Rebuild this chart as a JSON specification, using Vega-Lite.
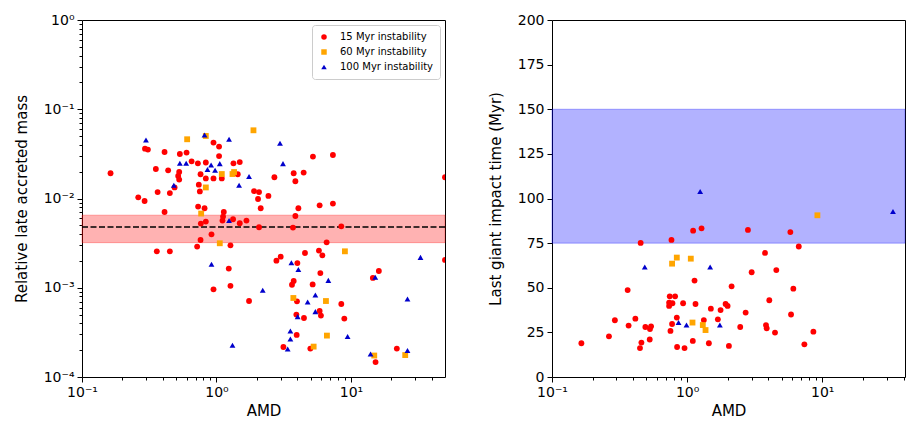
{
  "$schema": "https://vega.github.io/schema/vega-lite/v6.json",
  "padding": {"left": 13, "top": 12, "right": 2, "bottom": 5},
  "background": "white",
  "config": {
    "font": "DejaVu Sans",
    "view": {"stroke": "black", "strokeWidth": 1},
    "axis": {"domain": false, "grid": false, "tickColor": "black", "labelColor": "black", "titleColor": "black", "labelFontSize": 14, "titleFontSize": 15, "titleFontWeight": "normal", "tickWidth": 1, "labelPadding": 3, "labelOverlap": false, "labelFlush": false},
    "axisX": {"titlePadding": 4},
    "axisY": {"titlePadding": 14},
    "legend": {"orient": "top-right", "offset": 5, "labelFontSize": 10, "labelColor": "black", "symbolSize": 30, "symbolOpacity": 1, "symbolStrokeWidth": 0, "strokeColor": "#cccccc", "fillColor": "white", "padding": 7, "cornerRadius": 3, "rowPadding": 5, "labelOffset": 11}
  },
  "datasets": {
    "leftband": [{"y": 0.0032, "y2": 0.0065}],
    "leftline": [{"y": 0.0048}],
    "rightband": [{"y": 75, "y2": 150}],
    "left": [
      {"s": "15 Myr instability", "x": 0.163, "y": 0.0192},
      {"s": "15 Myr instability", "x": 0.294, "y": 0.0362},
      {"s": "15 Myr instability", "x": 0.309, "y": 0.0353},
      {"s": "15 Myr instability", "x": 0.411, "y": 0.0332},
      {"s": "15 Myr instability", "x": 0.534, "y": 0.0315},
      {"s": "15 Myr instability", "x": 0.599, "y": 0.0327},
      {"s": "15 Myr instability", "x": 0.95, "y": 0.0423},
      {"s": "15 Myr instability", "x": 1.045, "y": 0.0382},
      {"s": "15 Myr instability", "x": 1.045, "y": 0.0299},
      {"s": "15 Myr instability", "x": 0.653, "y": 0.0261},
      {"s": "15 Myr instability", "x": 0.727, "y": 0.0248},
      {"s": "15 Myr instability", "x": 0.833, "y": 0.0253},
      {"s": "15 Myr instability", "x": 1.337, "y": 0.0248},
      {"s": "15 Myr instability", "x": 1.489, "y": 0.0256},
      {"s": "15 Myr instability", "x": 0.354, "y": 0.0214},
      {"s": "15 Myr instability", "x": 0.437, "y": 0.0207},
      {"s": "15 Myr instability", "x": 0.528, "y": 0.0198},
      {"s": "15 Myr instability", "x": 0.519, "y": 0.0179},
      {"s": "15 Myr instability", "x": 0.528, "y": 0.0163},
      {"s": "15 Myr instability", "x": 0.761, "y": 0.0187},
      {"s": "15 Myr instability", "x": 0.833, "y": 0.0168},
      {"s": "15 Myr instability", "x": 0.95, "y": 0.0168},
      {"s": "15 Myr instability", "x": 1.095, "y": 0.0168},
      {"s": "15 Myr instability", "x": 1.439, "y": 0.0187},
      {"s": "15 Myr instability", "x": 0.739, "y": 0.0143},
      {"s": "15 Myr instability", "x": 0.488, "y": 0.0133},
      {"s": "15 Myr instability", "x": 0.752, "y": 0.012},
      {"s": "15 Myr instability", "x": 0.365, "y": 0.0118},
      {"s": "15 Myr instability", "x": 0.45, "y": 0.0115},
      {"s": "15 Myr instability", "x": 0.262, "y": 0.0103},
      {"s": "15 Myr instability", "x": 0.292, "y": 0.00937},
      {"s": "15 Myr instability", "x": 1.902, "y": 0.0121},
      {"s": "15 Myr instability", "x": 2.072, "y": 0.0118},
      {"s": "15 Myr instability", "x": 2.432, "y": 0.0107},
      {"s": "15 Myr instability", "x": 2.036, "y": 0.00987},
      {"s": "15 Myr instability", "x": 2.132, "y": 0.00777},
      {"s": "15 Myr instability", "x": 0.411, "y": 0.00706},
      {"s": "15 Myr instability", "x": 0.73, "y": 0.00811},
      {"s": "15 Myr instability", "x": 0.815, "y": 0.00777},
      {"s": "15 Myr instability", "x": 1.133, "y": 0.00706},
      {"s": "15 Myr instability", "x": 1.119, "y": 0.00627},
      {"s": "15 Myr instability", "x": 1.108, "y": 0.00566},
      {"s": "15 Myr instability", "x": 1.328, "y": 0.00585},
      {"s": "15 Myr instability", "x": 1.67, "y": 0.00566},
      {"s": "15 Myr instability", "x": 1.489, "y": 0.00528},
      {"s": "15 Myr instability", "x": 0.765, "y": 0.00524},
      {"s": "15 Myr instability", "x": 0.833, "y": 0.00551},
      {"s": "15 Myr instability", "x": 2.072, "y": 0.00476},
      {"s": "15 Myr instability", "x": 0.918, "y": 0.00397},
      {"s": "15 Myr instability", "x": 0.761, "y": 0.00343},
      {"s": "15 Myr instability", "x": 0.718, "y": 0.00289},
      {"s": "15 Myr instability", "x": 1.27, "y": 0.00299},
      {"s": "15 Myr instability", "x": 0.36, "y": 0.00256},
      {"s": "15 Myr instability", "x": 0.45, "y": 0.00256},
      {"s": "15 Myr instability", "x": 5.213, "y": 0.0295},
      {"s": "15 Myr instability", "x": 7.338, "y": 0.0307},
      {"s": "15 Myr instability", "x": 2.695, "y": 0.0173},
      {"s": "15 Myr instability", "x": 3.749, "y": 0.0192},
      {"s": "15 Myr instability", "x": 4.447, "y": 0.0195},
      {"s": "15 Myr instability", "x": 3.859, "y": 0.0156},
      {"s": "15 Myr instability", "x": 5.846, "y": 0.00839},
      {"s": "15 Myr instability", "x": 7.338, "y": 0.00877},
      {"s": "15 Myr instability", "x": 4.062, "y": 0.00777},
      {"s": "15 Myr instability", "x": 3.859, "y": 0.00637},
      {"s": "15 Myr instability", "x": 3.704, "y": 0.00472},
      {"s": "15 Myr instability", "x": 8.472, "y": 0.00488},
      {"s": "15 Myr instability", "x": 6.591, "y": 0.00323},
      {"s": "15 Myr instability", "x": 50, "y": 0.0173},
      {"s": "15 Myr instability", "x": 3.002, "y": 0.00223},
      {"s": "15 Myr instability", "x": 4.548, "y": 0.00245},
      {"s": "15 Myr instability", "x": 5.776, "y": 0.00261},
      {"s": "15 Myr instability", "x": 6.124, "y": 0.00231},
      {"s": "15 Myr instability", "x": 1.234, "y": 0.00164},
      {"s": "15 Myr instability", "x": 0.95, "y": 0.000961},
      {"s": "15 Myr instability", "x": 1.27, "y": 0.00105},
      {"s": "15 Myr instability", "x": 1.746, "y": 0.00071},
      {"s": "15 Myr instability", "x": 2.789, "y": 0.00201},
      {"s": "15 Myr instability", "x": 3.993, "y": 0.00189},
      {"s": "15 Myr instability", "x": 5.917, "y": 0.00146},
      {"s": "15 Myr instability", "x": 3.641, "y": 0.00108},
      {"s": "15 Myr instability", "x": 3.749, "y": 0.00119},
      {"s": "15 Myr instability", "x": 5.187, "y": 0.00109},
      {"s": "15 Myr instability", "x": 3.966, "y": 0.000705},
      {"s": "15 Myr instability", "x": 3.925, "y": 0.0005},
      {"s": "15 Myr instability", "x": 4.47, "y": 0.000458},
      {"s": "15 Myr instability", "x": 5.846, "y": 0.000549},
      {"s": "15 Myr instability", "x": 5.977, "y": 0.000488},
      {"s": "15 Myr instability", "x": 8.472, "y": 0.000657},
      {"s": "15 Myr instability", "x": 8.92, "y": 0.000451},
      {"s": "15 Myr instability", "x": 3.946, "y": 0.000296},
      {"s": "15 Myr instability", "x": 3.144, "y": 0.000217},
      {"s": "15 Myr instability", "x": 4.987, "y": 0.000208},
      {"s": "15 Myr instability", "x": 14.54, "y": 0.00129},
      {"s": "15 Myr instability", "x": 16.11, "y": 0.00154},
      {"s": "15 Myr instability", "x": 21.92, "y": 0.000208},
      {"s": "15 Myr instability", "x": 15.23, "y": 0.000147},
      {"s": "15 Myr instability", "x": 50, "y": 0.00205},
      {"s": "60 Myr instability", "x": 0.605, "y": 0.0461},
      {"s": "60 Myr instability", "x": 0.833, "y": 0.0502},
      {"s": "60 Myr instability", "x": 1.883, "y": 0.0581},
      {"s": "60 Myr instability", "x": 1.095, "y": 0.0188},
      {"s": "60 Myr instability", "x": 1.315, "y": 0.0188},
      {"s": "60 Myr instability", "x": 1.351, "y": 0.0198},
      {"s": "60 Myr instability", "x": 0.833, "y": 0.0133},
      {"s": "60 Myr instability", "x": 0.769, "y": 0.00678},
      {"s": "60 Myr instability", "x": 1.058, "y": 0.00315},
      {"s": "60 Myr instability", "x": 9.01, "y": 0.00256},
      {"s": "60 Myr instability", "x": 3.729, "y": 0.000768},
      {"s": "60 Myr instability", "x": 6.513, "y": 0.00071},
      {"s": "60 Myr instability", "x": 6.625, "y": 0.000291},
      {"s": "60 Myr instability", "x": 5.276, "y": 0.000219},
      {"s": "60 Myr instability", "x": 14.89, "y": 0.000174},
      {"s": "60 Myr instability", "x": 25.3, "y": 0.000176},
      {"s": "100 Myr instability", "x": 0.299, "y": 0.0452},
      {"s": "100 Myr instability", "x": 0.815, "y": 0.0515},
      {"s": "100 Myr instability", "x": 1.24, "y": 0.0461},
      {"s": "100 Myr instability", "x": 0.534, "y": 0.0248},
      {"s": "100 Myr instability", "x": 0.595, "y": 0.0248},
      {"s": "100 Myr instability", "x": 0.912, "y": 0.0237},
      {"s": "100 Myr instability", "x": 1.058, "y": 0.0246},
      {"s": "100 Myr instability", "x": 0.857, "y": 0.0211},
      {"s": "100 Myr instability", "x": 0.976, "y": 0.0207},
      {"s": "100 Myr instability", "x": 0.482, "y": 0.0141},
      {"s": "100 Myr instability", "x": 1.746, "y": 0.0176},
      {"s": "100 Myr instability", "x": 1.472, "y": 0.0141},
      {"s": "100 Myr instability", "x": 1.24, "y": 0.00566},
      {"s": "100 Myr instability", "x": 2.966, "y": 0.0416},
      {"s": "100 Myr instability", "x": 3.122, "y": 0.0246},
      {"s": "100 Myr instability", "x": 32.86, "y": 0.00219},
      {"s": "100 Myr instability", "x": 0.918, "y": 0.00183},
      {"s": "100 Myr instability", "x": 2.207, "y": 0.000936},
      {"s": "100 Myr instability", "x": 1.315, "y": 0.000227},
      {"s": "100 Myr instability", "x": 3.604, "y": 0.00191},
      {"s": "100 Myr instability", "x": 4.062, "y": 0.0016},
      {"s": "100 Myr instability", "x": 6.786, "y": 0.00121},
      {"s": "100 Myr instability", "x": 5.433, "y": 0.000829},
      {"s": "100 Myr instability", "x": 4.762, "y": 0.000692},
      {"s": "100 Myr instability", "x": 5.433, "y": 0.00054},
      {"s": "100 Myr instability", "x": 4.014, "y": 0.000475},
      {"s": "100 Myr instability", "x": 3.543, "y": 0.000328},
      {"s": "100 Myr instability", "x": 3.543, "y": 0.000267},
      {"s": "100 Myr instability", "x": 3.383, "y": 0.000206},
      {"s": "100 Myr instability", "x": 9.436, "y": 0.000284},
      {"s": "100 Myr instability", "x": 15.15, "y": 0.00131},
      {"s": "100 Myr instability", "x": 26.31, "y": 0.000748},
      {"s": "100 Myr instability", "x": 13.98, "y": 0.000181},
      {"s": "100 Myr instability", "x": 26.31, "y": 0.000198}
    ],
    "right": [
      {"s": "15 Myr instability", "x": 0.453, "y": 75.1},
      {"s": "15 Myr instability", "x": 0.766, "y": 76.8},
      {"s": "15 Myr instability", "x": 1.108, "y": 82.0},
      {"s": "15 Myr instability", "x": 1.279, "y": 83.3},
      {"s": "15 Myr instability", "x": 0.363, "y": 48.7},
      {"s": "15 Myr instability", "x": 1.135, "y": 54.0},
      {"s": "15 Myr instability", "x": 0.744, "y": 45.2},
      {"s": "15 Myr instability", "x": 0.815, "y": 45.2},
      {"s": "15 Myr instability", "x": 0.736, "y": 41.7},
      {"s": "15 Myr instability", "x": 0.779, "y": 41.3},
      {"s": "15 Myr instability", "x": 0.736, "y": 39.8},
      {"s": "15 Myr instability", "x": 0.934, "y": 41.3},
      {"s": "15 Myr instability", "x": 1.154, "y": 40.9},
      {"s": "15 Myr instability", "x": 1.927, "y": 40.9},
      {"s": "15 Myr instability", "x": 1.994, "y": 39.8},
      {"s": "15 Myr instability", "x": 1.499, "y": 38.3},
      {"s": "15 Myr instability", "x": 1.769, "y": 37.5},
      {"s": "15 Myr instability", "x": 0.414, "y": 32.7},
      {"s": "15 Myr instability", "x": 0.292, "y": 31.8},
      {"s": "15 Myr instability", "x": 0.369, "y": 28.8},
      {"s": "15 Myr instability", "x": 0.839, "y": 33.3},
      {"s": "15 Myr instability", "x": 0.774, "y": 29.7},
      {"s": "15 Myr instability", "x": 1.33, "y": 31.9},
      {"s": "15 Myr instability", "x": 1.689, "y": 32.3},
      {"s": "15 Myr instability", "x": 0.491, "y": 28.0},
      {"s": "15 Myr instability", "x": 0.541, "y": 28.4},
      {"s": "15 Myr instability", "x": 0.531, "y": 26.9},
      {"s": "15 Myr instability", "x": 0.753, "y": 25.8},
      {"s": "15 Myr instability", "x": 0.264, "y": 22.8},
      {"s": "15 Myr instability", "x": 0.529, "y": 21.0},
      {"s": "15 Myr instability", "x": 0.459, "y": 19.3},
      {"s": "15 Myr instability", "x": 1.102, "y": 20.2},
      {"s": "15 Myr instability", "x": 1.449, "y": 18.9},
      {"s": "15 Myr instability", "x": 0.165, "y": 18.9},
      {"s": "15 Myr instability", "x": 0.448, "y": 16.2},
      {"s": "15 Myr instability", "x": 0.843, "y": 16.8},
      {"s": "15 Myr instability", "x": 0.957, "y": 16.2},
      {"s": "15 Myr instability", "x": 2.039, "y": 17.4},
      {"s": "15 Myr instability", "x": 2.82, "y": 82.4},
      {"s": "15 Myr instability", "x": 5.809, "y": 81.2},
      {"s": "15 Myr instability", "x": 6.707, "y": 73.1},
      {"s": "15 Myr instability", "x": 3.771, "y": 69.5},
      {"s": "15 Myr instability", "x": 4.574, "y": 59.9},
      {"s": "15 Myr instability", "x": 3.005, "y": 58.7},
      {"s": "15 Myr instability", "x": 2.135, "y": 50.8},
      {"s": "15 Myr instability", "x": 6.114, "y": 49.5},
      {"s": "15 Myr instability", "x": 4.058, "y": 43.0},
      {"s": "15 Myr instability", "x": 2.712, "y": 36.1},
      {"s": "15 Myr instability", "x": 5.879, "y": 35.0},
      {"s": "15 Myr instability", "x": 2.473, "y": 28.0},
      {"s": "15 Myr instability", "x": 3.836, "y": 29.1},
      {"s": "15 Myr instability", "x": 3.882, "y": 27.3},
      {"s": "15 Myr instability", "x": 4.473, "y": 24.9},
      {"s": "15 Myr instability", "x": 8.604, "y": 25.4},
      {"s": "15 Myr instability", "x": 7.379, "y": 18.3},
      {"s": "60 Myr instability", "x": 0.839, "y": 66.9},
      {"s": "60 Myr instability", "x": 0.774, "y": 63.5},
      {"s": "60 Myr instability", "x": 1.065, "y": 66.3},
      {"s": "60 Myr instability", "x": 1.096, "y": 30.5},
      {"s": "60 Myr instability", "x": 1.307, "y": 29.1},
      {"s": "60 Myr instability", "x": 1.369, "y": 26.3},
      {"s": "60 Myr instability", "x": 9.213, "y": 90.6},
      {"s": "100 Myr instability", "x": 0.486, "y": 61.6},
      {"s": "100 Myr instability", "x": 1.481, "y": 61.6},
      {"s": "100 Myr instability", "x": 0.864, "y": 30.5},
      {"s": "100 Myr instability", "x": 0.99, "y": 29.1},
      {"s": "100 Myr instability", "x": 1.748, "y": 29.1},
      {"s": "100 Myr instability", "x": 1.249, "y": 103.9},
      {"s": "100 Myr instability", "x": 33.4, "y": 92.7}
    ]
  },
  "spacing": 40,
  "resolve": {"scale": {"color": "independent", "shape": "independent"}, "legend": {"color": "independent", "shape": "independent"}},
  "hconcat": [
    {
      "width": 363,
      "height": 357,
      "encoding": {
        "y": {
          "field": "y", "type": "quantitative",
          "scale": {"type": "log", "domain": [0.0001, 1], "nice": false},
          "axis": {
            "title": "Relative late accreted mass",
            "values": [0.0001, 0.0002, 0.0003, 0.0004, 0.0005, 0.0006, 0.0007, 0.0008, 0.0009, 0.001, 0.002, 0.003, 0.004, 0.005, 0.006, 0.007, 0.008, 0.009, 0.01, 0.02, 0.03, 0.04, 0.05, 0.06, 0.07, 0.08, 0.09, 0.1, 0.2, 0.3, 0.4, 0.5, 0.6, 0.7, 0.8, 0.9, 1],
            "labelExpr": "abs(log(datum.value)/LN10 - round(log(datum.value)/LN10)) > 0.01 ? '' : '10' + (datum.value < 0.5 ? '⁻' : '') + ['⁰','¹','²','³','⁴'][abs(round(log(datum.value)/LN10))]",
            "tickSize": {"condition": {"test": "abs(log(datum.value)/LN10 - round(log(datum.value)/LN10)) < 0.01", "value": 5}, "value": 3}
          }
        }
      },
      "layer": [
        {
          "data": {"name": "leftband"},
          "mark": {"type": "rect", "fill": "red", "fillOpacity": 0.3, "stroke": "red", "strokeOpacity": 0.3, "strokeWidth": 1},
          "encoding": {"y2": {"field": "y2"}}
        },
        {
          "data": {"name": "leftline"},
          "mark": {"type": "rule", "color": "black", "strokeDash": [6, 2.5], "strokeWidth": 1.5},
          "encoding": {}
        },
        {
          "data": {"name": "left"},
          "mark": {"type": "point", "filled": true, "size": 34, "opacity": 1, "strokeWidth": 0, "clip": true},
          "encoding": {
            "x": {
              "field": "x", "type": "quantitative",
              "scale": {"type": "log", "domain": [0.1, 50], "nice": false},
              "axis": {
                "title": "AMD",
                "values": [0.1, 0.2, 0.3, 0.4, 0.5, 0.6, 0.7, 0.8, 0.9, 1, 2, 3, 4, 5, 6, 7, 8, 9, 10, 20, 30, 40],
                "labelExpr": "abs(log(datum.value)/LN10 - round(log(datum.value)/LN10)) > 0.01 ? '' : '10' + (datum.value < 0.5 ? '⁻' : '') + ['⁰','¹','²','³','⁴'][abs(round(log(datum.value)/LN10))]",
                "tickSize": {"condition": {"test": "abs(log(datum.value)/LN10 - round(log(datum.value)/LN10)) < 0.01", "value": 5}, "value": 3}
              }
            },
            "color": {"field": "s", "type": "nominal", "scale": {"domain": ["15 Myr instability", "60 Myr instability", "100 Myr instability"], "range": ["#ff0000", "#ffa500", "#0000cc"]}, "legend": {"title": null}},
            "shape": {"field": "s", "type": "nominal", "scale": {"domain": ["15 Myr instability", "60 Myr instability", "100 Myr instability"], "range": ["circle", "square", "triangle-up"]}, "legend": {"title": null}}
          }
        }
      ]
    },
    {
      "width": 353,
      "height": 357,
      "encoding": {
        "y": {
          "field": "y", "type": "quantitative",
          "scale": {"domain": [0, 200], "nice": false, "zero": false},
          "axis": {"title": "Last giant impact time (Myr)", "values": [0, 25, 50, 75, 100, 125, 150, 175, 200], "tickSize": 5}
        }
      },
      "layer": [
        {
          "data": {"name": "rightband"},
          "mark": {"type": "rect", "fill": "#0000ff", "fillOpacity": 0.3, "stroke": "#0000ff", "strokeOpacity": 0.3, "strokeWidth": 1},
          "encoding": {"y2": {"field": "y2"}}
        },
        {
          "data": {"name": "right"},
          "mark": {"type": "point", "filled": true, "size": 34, "opacity": 1, "strokeWidth": 0, "clip": true},
          "encoding": {
            "x": {
              "field": "x", "type": "quantitative",
              "scale": {"type": "log", "domain": [0.1, 41], "nice": false},
              "axis": {
                "title": "AMD",
                "values": [0.1, 0.2, 0.3, 0.4, 0.5, 0.6, 0.7, 0.8, 0.9, 1, 2, 3, 4, 5, 6, 7, 8, 9, 10, 20, 30, 40],
                "labelExpr": "abs(log(datum.value)/LN10 - round(log(datum.value)/LN10)) > 0.01 ? '' : '10' + (datum.value < 0.5 ? '⁻' : '') + ['⁰','¹','²','³','⁴'][abs(round(log(datum.value)/LN10))]",
                "tickSize": {"condition": {"test": "abs(log(datum.value)/LN10 - round(log(datum.value)/LN10)) < 0.01", "value": 5}, "value": 3}
              }
            },
            "color": {"field": "s", "type": "nominal", "scale": {"domain": ["15 Myr instability", "60 Myr instability", "100 Myr instability"], "range": ["#ff0000", "#ffa500", "#0000cc"]}, "legend": null},
            "shape": {"field": "s", "type": "nominal", "scale": {"domain": ["15 Myr instability", "60 Myr instability", "100 Myr instability"], "range": ["circle", "square", "triangle-up"]}, "legend": null}
          }
        }
      ]
    }
  ]
}
